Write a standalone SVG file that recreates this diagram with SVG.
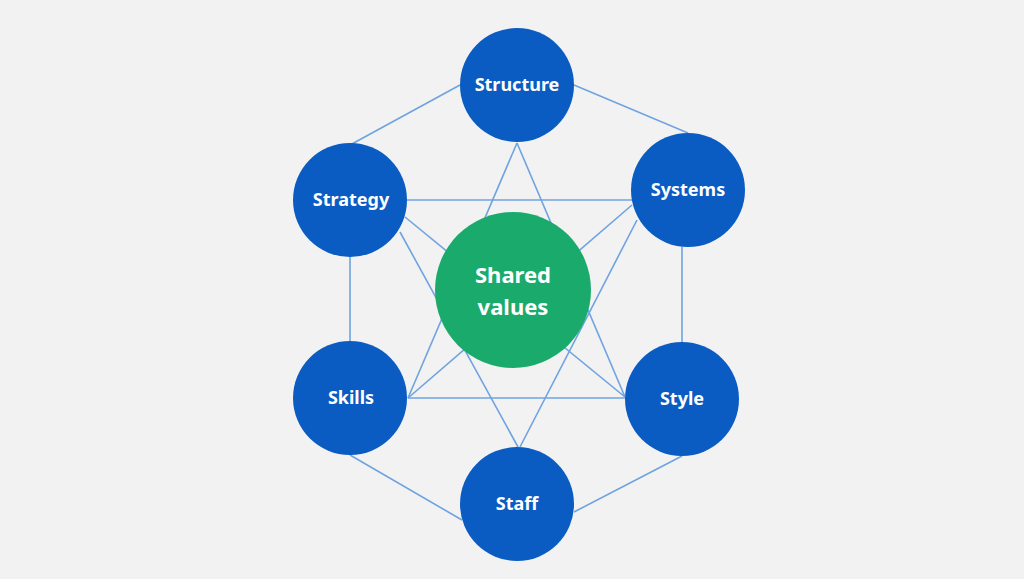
<svg xmlns="http://www.w3.org/2000/svg" width="1024" height="579" viewBox="0 0 1024 579">
<style>
.n{fill:#0a5cc2}
.t{font-family:"Noto Sans","Liberation Sans",sans-serif;font-weight:bold;fill:#fff;text-anchor:middle}
#connectors line{stroke:#6fa3e0;stroke-width:1.6}
</style>
<rect width="1024" height="579" fill="#f2f2f2"/>
<g id="connectors">
<line x1="460" y1="85" x2="350" y2="145"/>
<line x1="574" y1="85" x2="688" y2="133"/>
<line x1="682" y1="247" x2="682" y2="342"/>
<line x1="682" y1="456" x2="574" y2="512"/>
<line x1="350" y1="455" x2="462" y2="520"/>
<line x1="350" y1="398" x2="350" y2="200"/>
<line x1="517" y1="143" x2="408" y2="398"/>
<line x1="517" y1="143" x2="625" y2="397"/>
<line x1="407" y1="200" x2="632" y2="200"/>
<line x1="408" y1="398" x2="625" y2="398"/>
<line x1="405" y1="217" x2="625" y2="397"/>
<line x1="400" y1="232" x2="518" y2="447"/>
<line x1="632" y1="205" x2="408" y2="398"/>
<line x1="637" y1="220" x2="520" y2="447"/>
</g>
<g id="structure"><circle class="n" cx="517" cy="85" r="57"/><text class="t" x="517" y="91" font-size="18">Structure</text></g>
<g id="systems"><circle class="n" cx="688" cy="190" r="57"/><text class="t" x="688" y="196" font-size="18">Systems</text></g>
<g id="style"><circle class="n" cx="682" cy="399" r="57"/><text class="t" x="682" y="405" font-size="18">Style</text></g>
<g id="staff"><circle class="n" cx="517" cy="504" r="57"/><text class="t" x="517" y="510" font-size="18">Staff</text></g>
<g id="skills"><circle class="n" cx="350" cy="398" r="57"/><text class="t" x="351" y="404" font-size="18">Skills</text></g>
<g id="strategy"><circle class="n" cx="350" cy="200" r="57"/><text class="t" x="351" y="206" font-size="18">Strategy</text></g>
<g id="shared"><circle cx="513" cy="290" r="78" fill="#1aab6c"/><text class="t" x="513" y="283" font-size="22">Shared</text><text class="t" x="513" y="315" font-size="22">values</text></g>
</svg>
